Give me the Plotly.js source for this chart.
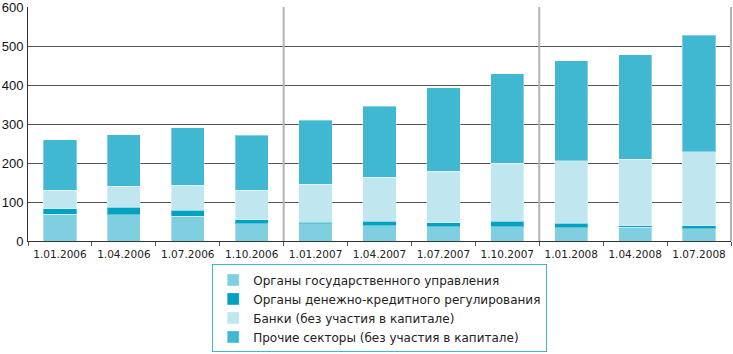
<!DOCTYPE html>
<html><head><meta charset="utf-8">
<script src="https://cdn.plot.ly/plotly-3.0.1.min.js"></script>
<style>html,body{margin:0;padding:0;background:#fff}#chart{width:733px;height:354px}</style>
</head><body><div id="chart"></div>
<script>
const categories = ["1.01.2006","1.04.2006","1.07.2006","1.10.2006","1.01.2007","1.04.2007","1.07.2007","1.10.2007","1.01.2008","1.04.2008","1.07.2008"];
const seriesNames = ["Органы государственного управления","Органы денежно-кредитного регулирования","Банки (без участия в капитале)","Прочие секторы (без участия в капитале)"];
const govValues = [69, 67, 64, 44, 44, 39, 36, 36, 34, 35, 32];
const monetaryValues = [14, 19, 15, 10, 4, 12, 11, 15, 12, 4, 7];
const bankValues = [47, 54, 64, 76, 97, 112, 132, 148, 160, 170, 190];
const otherValues = [129, 133, 147, 141, 164, 183, 214, 230, 256, 268, 298];
const colors = ["#80cfe0", "#00a1c2", "#c0e7f0", "#41b8d1"];
const allSeries = [govValues, monetaryValues, bankValues, otherValues];

const traces = allSeries.map((vals, i) => ({
  type: "bar", x: categories, y: vals, name: seriesNames[i],
  marker: {color: colors[i], line: {color: "rgba(255,255,255,0.35)", width: 1}},
  hoverinfo: "y"
}));

const layout = {
  width: 733, height: 354,
  margin: {l: 28, r: 2, t: 7, b: 111},
  barmode: "stack", bargap: 0.48,
  paper_bgcolor: "#fff", plot_bgcolor: "#fff",
  font: {family: "DejaVu Sans, sans-serif", size: 12, color: "#222"},
  showlegend: true,
  legend: {x: 0.262, xanchor: "left", y: -0.1, yanchor: "top", traceorder: "normal",
    bordercolor: "#41b8d1", borderwidth: 1, bgcolor: "#fff",
    font: {family: "DejaVu Sans, sans-serif", size: 12, color: "#222"}, tracegroupgap: 0, itemwidth: 30},
  xaxis: {type: "category", tickson: "boundaries", ticks: "outside", ticklen: 4, tickcolor: "#555",
    showline: true, linecolor: "#333", linewidth: 1, showgrid: false, ticklabelstandoff: 3, tickangle: 0,
    tickfont: {family: "DejaVu Sans, sans-serif", size: 10.5, color: "#222"}, range: [-0.5, 10.5]},
  yaxis: {range: [0, 600], dtick: 100, showgrid: true, gridcolor: "#555", gridwidth: 1,
    showline: true, linecolor: "#333", linewidth: 1, zeroline: true, zerolinecolor: "#333",
    ticks: "", ticklabeloverflow: "allow",
    tickfont: {family: "Liberation Sans, Arial, sans-serif", size: 13, color: "#111"}, ticklabelstandoff: 1},
  shapes: [
    {type: "line", xref: "x", yref: "paper", x0: 3.5, x1: 3.5, y0: 0, y1: 1, line: {color: "#b3b3b3", width: 2}},
    {type: "line", xref: "x", yref: "paper", x0: 7.5, x1: 7.5, y0: 0, y1: 1, line: {color: "#b3b3b3", width: 2}},
    {type: "line", xref: "paper", yref: "paper", x0: 1, x1: 1, y0: 0, y1: 1, line: {color: "#b3b3b3", width: 2}}
  ]
};
Plotly.newPlot("chart", traces, layout, {staticPlot: true});
</script></body></html>
